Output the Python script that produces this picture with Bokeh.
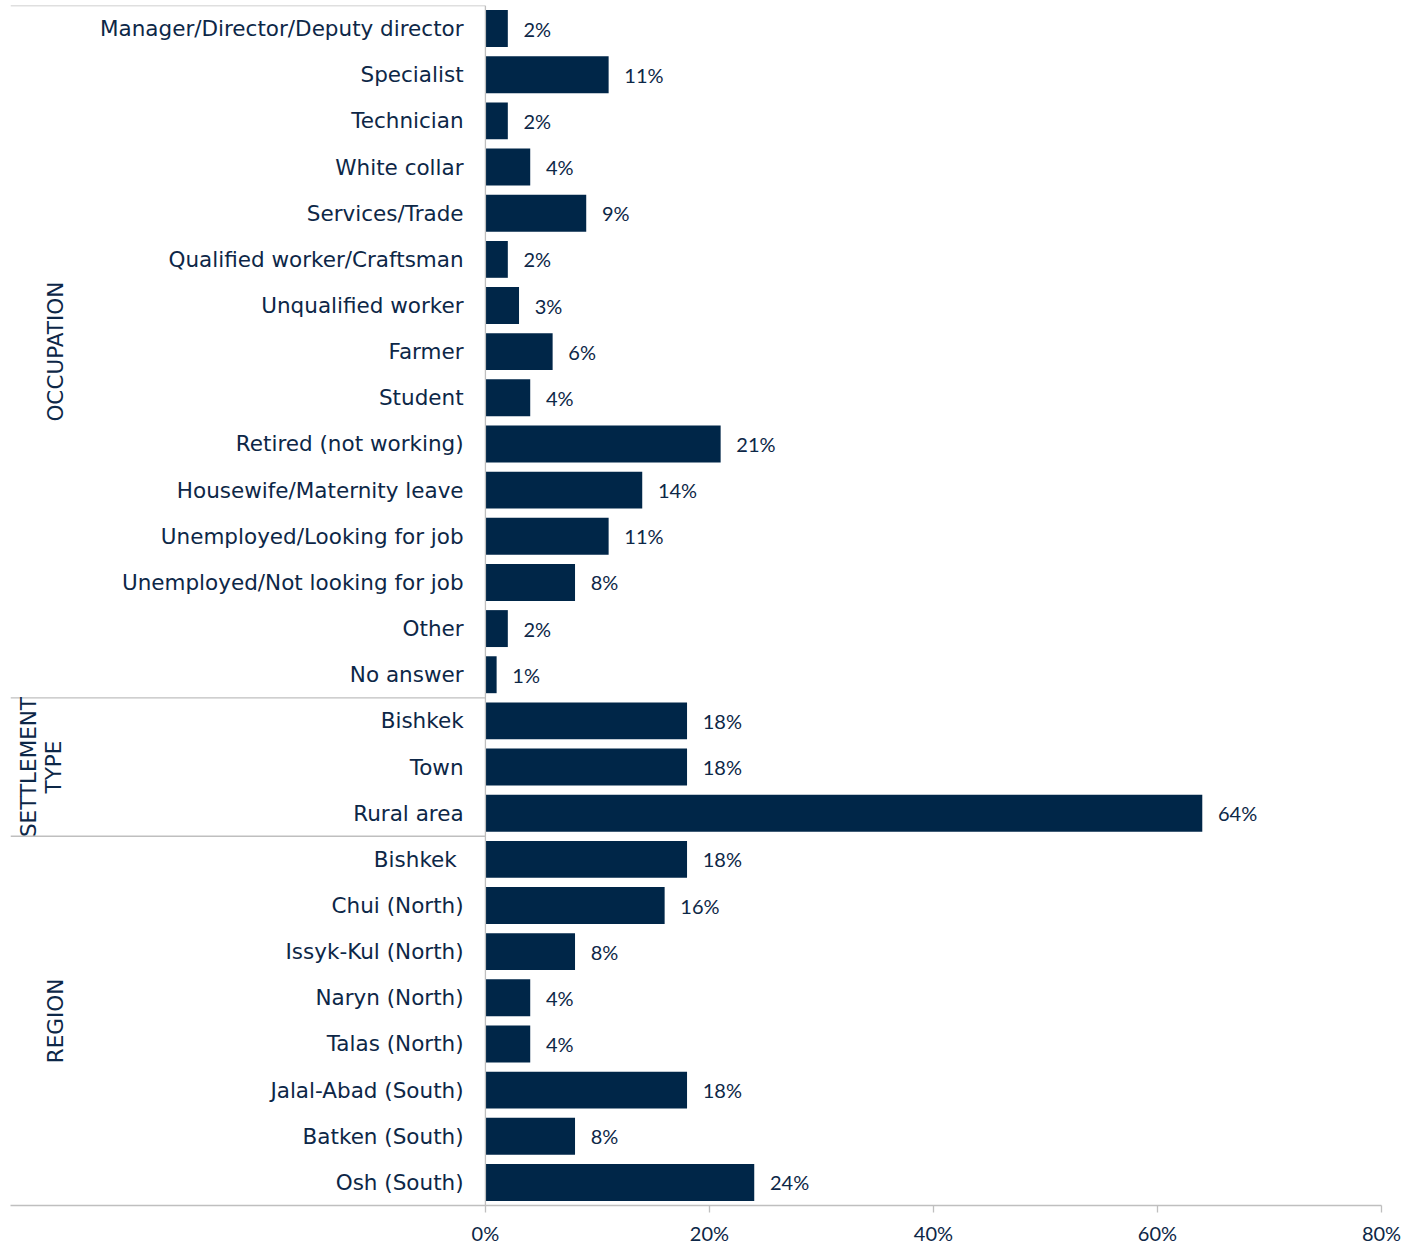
import math
from bokeh.plotting import figure
from bokeh.models import ColumnDataSource, FixedTicker, PrintfTickFormatter
from bokeh.core.properties import value
from bokeh.embed import file_html
from bokeh.resources import INLINE

occupation_labels = ["Manager/Director/Deputy director", "Specialist", "Technician", "White collar",
                     "Services/Trade", "Qualified worker/Craftsman", "Unqualified worker", "Farmer",
                     "Student", "Retired (not working)", "Housewife/Maternity leave",
                     "Unemployed/Looking for job", "Unemployed/Not looking for job", "Other", "No answer"]
occupation_values = [2, 11, 2, 4, 9, 2, 3, 6, 4, 21, 14, 11, 8, 2, 1]

settlement_labels = ["Bishkek", "Town", "Rural area"]
settlement_values = [18, 18, 64]

region_labels = ["Bishkek ", "Chui (North)", "Issyk-Kul (North)", "Naryn (North)", "Talas (North)",
                 "Jalal-Abad (South)", "Batken (South)", "Osh (South)"]
region_values = [18, 16, 8, 4, 4, 18, 8, 24]

group_names = ["OCCUPATION", "SETTLEMENT\nTYPE", "REGION"]
x_ticks = [0, 20, 40, 60, 80]

labels = occupation_labels + settlement_labels + region_labels
values = occupation_values + settlement_values + region_values
n = len(labels)
ypos = [n - 1 - i for i in range(n)]

NAVY = "#002648"
TEXT = "#0d2747"
GRAY = "#bfbfbf"
XMIN = -42.4

src = ColumnDataSource(dict(
    y=ypos, v=values, lab=labels,
    vl=[f"{v}%" for v in values],
    vx=[v + 1.4 for v in values],
    lx=[-1.95] * n,
))

p = figure(frame_width=1371, frame_height=1200, x_range=(XMIN, 80), y_range=(-0.5, n - 0.5),
           output_backend="svg", toolbar_location=None, y_axis_location=None,
           min_border_left=10, min_border_top=5, min_border_right=30, min_border_bottom=40)
p.outline_line_color = None
p.xgrid.grid_line_color = None
p.ygrid.grid_line_color = None

p.hbar(y="y", right="v", left=0, height=0.8, source=src, fill_color=NAVY, line_color=None)

p.text(x="lx", y="y", text="lab", source=src, text_align="right", text_baseline="middle",
       text_font=value("DejaVu Sans"), text_font_size="21.5px", text_color=TEXT)
p.text(x="vx", y="y", text="vl", source=src, text_align="left", text_baseline="middle",
       text_font=value("Lato"), text_font_size="20px", text_color=TEXT)

# separators and frame lines
n_occ = len(occupation_labels)
n_set = len(settlement_labels)
sep_y = [n - 0.5, n - n_occ - 0.5, n - n_occ - n_set - 0.5]
p.segment(x0=[XMIN] * 3, x1=[0] * 3, y0=sep_y, y1=sep_y, line_color=GRAY, line_width=1.3)
p.segment(x0=[0], x1=[0], y0=[-0.5], y1=[n - 0.5], line_color=GRAY, line_width=1.3)

# group labels
g_y = [n - 1 - (n_occ - 1) / 2,
       n - 1 - (n_occ + (n_set - 1) / 2),
       n - 1 - (n_occ + n_set + (len(region_labels) - 1) / 2)]
g_x = [-38.4, -39.7, -38.4]
p.text(x=g_x, y=g_y, text=group_names, angle=math.pi / 2, text_align="center",
       text_baseline="middle", text_font=value("DejaVu Sans"), text_font_size="21.5px",
       text_color=TEXT, text_line_height=1.0)

ax = p.xaxis[0]
ax.ticker = FixedTicker(ticks=x_ticks)
ax.formatter = PrintfTickFormatter(format="%d%%")
ax.axis_line_color = GRAY
ax.axis_line_width = 1.3
ax.major_tick_line_color = GRAY
ax.major_tick_line_width = 1.3
ax.major_tick_out = 7
ax.major_tick_in = 0
ax.minor_tick_line_color = None
ax.major_label_text_font = "Lato"
ax.major_label_text_font_size = "20px"
ax.major_label_text_color = TEXT
ax.major_label_standoff = 8

open("out.html", "w").write(file_html(p, INLINE))
